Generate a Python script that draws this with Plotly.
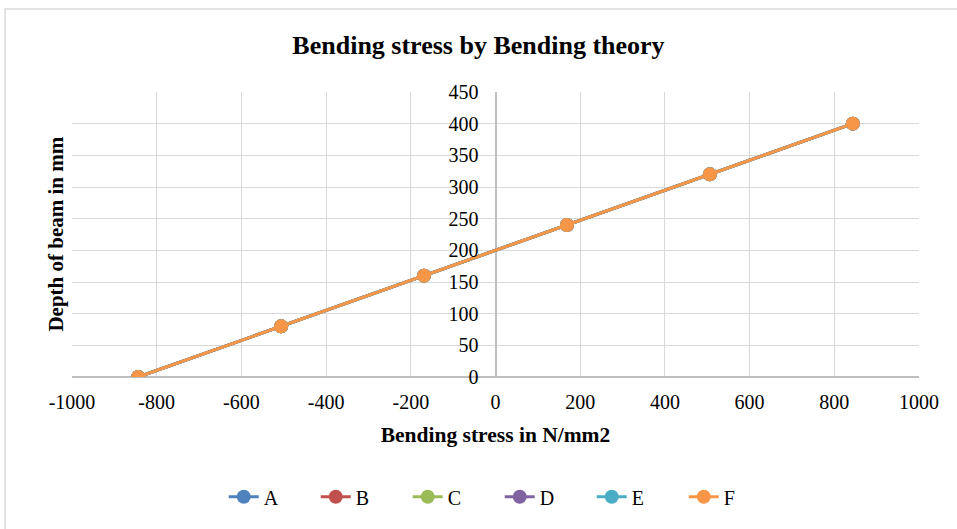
import plotly.graph_objects as go

# Data (all six series sit on the same line)
depth = [0, 80, 160, 240, 320, 400]
stress = [-843.75, -506.25, -168.75, 168.75, 506.25, 843.75]
series_names = ["A", "B", "C", "D", "E", "F"]
series_colors = ["#4F81BD", "#C0504D", "#9BBB59", "#8064A2", "#4BACC6", "#F79646"]

x_ticks = [-1000, -800, -600, -400, -200, 0, 200, 400, 600, 800, 1000]
x_tick_labels = ["-1000", "-800", "-600", "-400", "-200", "0",
                 "200", "400", "600", "800", "1000"]

FONT = "Liberation Serif"

fig = go.Figure()

for name, color in zip(series_names, series_colors):
    fig.add_trace(
        go.Scatter(x=stress,
                   y=depth,
                   name=name,
                   mode="lines+markers",
                   line=dict(color=color, width=3),
                   marker=dict(color=color, size=14)))

fig.update_layout(
    width=957, height=529,
    margin=dict(l=72, r=38, t=92, b=152),
    paper_bgcolor="white", plot_bgcolor="white",
    font=dict(family=FONT, size=20, color="#000000"),
    title=dict(text="<b>Bending stress by Bending theory</b>",
               x=0.5, xanchor="center", y=0.915, yanchor="middle",
               font=dict(family=FONT, size=26, color="#000000")),
    showlegend=True,
    legend=dict(orientation="h", x=0.505, xanchor="center",
                y=-0.42, yanchor="middle",
                font=dict(family=FONT, size=20), entrywidth=47,
                traceorder="normal"),
)

fig.update_xaxes(
    range=[-1000, 1000], tickmode="array",
    tickvals=x_ticks, ticktext=x_tick_labels,
    showgrid=True, gridcolor="#D9D9D9", gridwidth=1.3,
    zeroline=True, zerolinecolor="#BFBFBF", zerolinewidth=1.5,
    showline=False, ticks="", ticklabelstandoff=11,
    tickfont=dict(family=FONT, size=20),
    title=dict(text="<b>Bending stress in N/mm2</b>", standoff=14,
               font=dict(family=FONT, size=21.5)),
)

fig.update_yaxes(
    range=[0, 450], dtick=50,
    showgrid=True, gridcolor="#D9D9D9", gridwidth=1.3,
    zeroline=True, zerolinecolor="#BFBFBF", zerolinewidth=1.5,
    anchor="free", position=0.5, ticks="", ticklabelstandoff=17,
    tickfont=dict(family=FONT, size=20),
)

# y axis title sits at the left edge, not next to the centred axis
fig.add_annotation(
    text="<b>Depth of beam in mm</b>", textangle=-90,
    xref="paper", yref="paper", x=-0.02, y=0.5,
    xanchor="center", yanchor="middle", showarrow=False,
    font=dict(family=FONT, size=21, color="#000000"))

# chart area border
fig.add_shape(type="rect", xref="paper", yref="paper",
              x0=-0.079, x1=1.06, y0=-0.6, y1=1.291,
              line=dict(color="#D9D9D9", width=1.5), layer="below")

# drop the default page margin so the figure fills the window
fig.write_html("out.html", config={"displayModeBar": False},
               post_script="document.body.style.margin='0';")
